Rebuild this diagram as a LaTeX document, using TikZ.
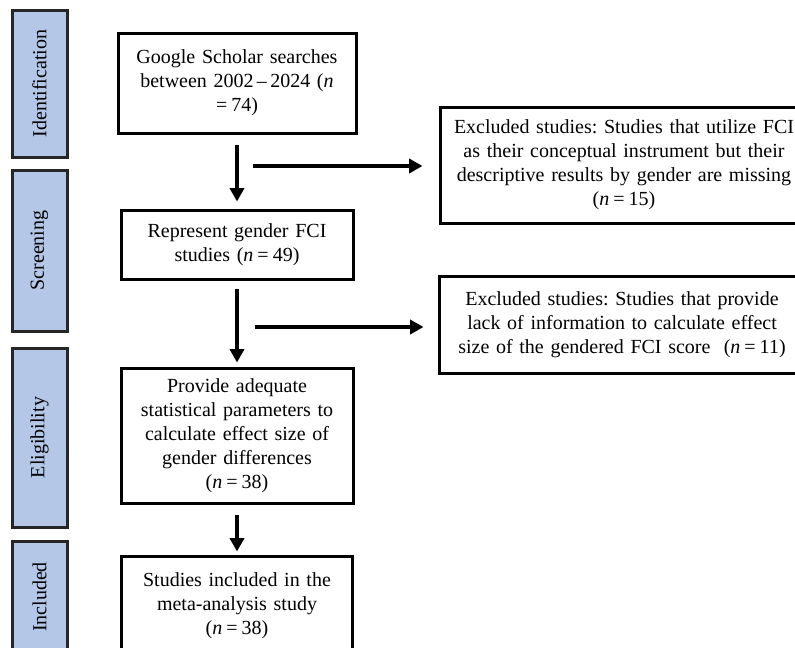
\documentclass[tikz,border=0pt]{standalone}
\usepackage{fontspec}
\setmainfont{Liberation Serif}
\usetikzlibrary{arrows.meta}
\definecolor{barblue}{RGB}{180,199,231}
\newcommand{\eqn}[1]{(\textit{n}\hspace{0.2em}=\hspace{0.2em}#1)}
\begin{document}
\begin{tikzpicture}[x=0.75pt,y=-0.75pt,
  box/.style={draw=black, line width=2.25pt, inner sep=0pt, align=center,
    font=\fontsize{15}{18}\selectfont\frenchspacing},
  stagebar/.style={draw=black!85, fill=barblue, line width=2.25pt, rotate=90,
    inner sep=0pt, minimum height=41.25pt, font=\fontsize{15}{18}\selectfont},
  flow/.style={line width=3pt, -{Triangle[width=10.5pt,length=10pt]}}]
\clip (0,0) rectangle (795,647);
\fill[white] (0,0) rectangle (795,647);

% stage bars
\node[stagebar, minimum width=110.25pt] (s1) at (39.5,83.5) {Identification};
\node[stagebar, minimum width=120.75pt] (s2) at (39.5,250.5) {Screening};
\node[stagebar, minimum width=134.25pt] (s3) at (39.5,437.5) {Eligibility};
\node[stagebar, minimum width=84pt] (s4) at (39.5,597) {Included};

% main boxes
\node[box, text width=178.5pt, minimum height=75pt] (b1) at (237,83)
  {Google Scholar searches\\ between 2002\,–\,2024 (\textit{n}\\ =\hspace{0.2em}74)};
\node[box, text width=174pt, minimum height=51.75pt] (b2) at (237,244.5)
  {Represent gender FCI\\ studies \eqn{49}};
\node[box, text width=174pt, minimum height=101.25pt] (b3) at (237,435.5)
  {Provide adequate\\ statistical parameters to\\ calculate effect size of\\ gender differences\\ \eqn{38}};
\node[box, text width=173.25pt, minimum height=74.25pt] (b4) at (237,605.5)
  {Studies included in the\\ meta-analysis study\\ \eqn{38}};

% excluded boxes
\node[box, text width=276pt, minimum height=87pt] (e1) at (624,165)
  {Excluded studies: Studies that utilize FCI\\ as their conceptual instrument but their\\ descriptive results by gender are missing\\ \eqn{15}};
\node[box, text width=274.5pt, minimum height=72.75pt] (e2) at (622,324.5)
  {Excluded studies: Studies that provide\\ lack of information to calculate effect\\ size of the gendered FCI score\ \ \eqn{11}};

% vertical arrows
\draw[flow, shorten <=7.5pt, shorten >=5.25pt] (b1.south) -- (b2.north);
\draw[flow, shorten <=6pt, shorten >=3pt] (b2.south) -- (b3.north);
\draw[flow, shorten <=7.5pt, shorten >=2.25pt] (b3.south) -- (b4.north);

% horizontal arrows
\coordinate (h1) at (253,166);
\coordinate (h2) at (255,327);
\draw[flow, shorten >=12pt] (h1) -- (h1 -| e1.west);
\draw[flow, shorten >=10.5pt] (h2) -- (h2 -| e2.west);
\end{tikzpicture}
\end{document}
